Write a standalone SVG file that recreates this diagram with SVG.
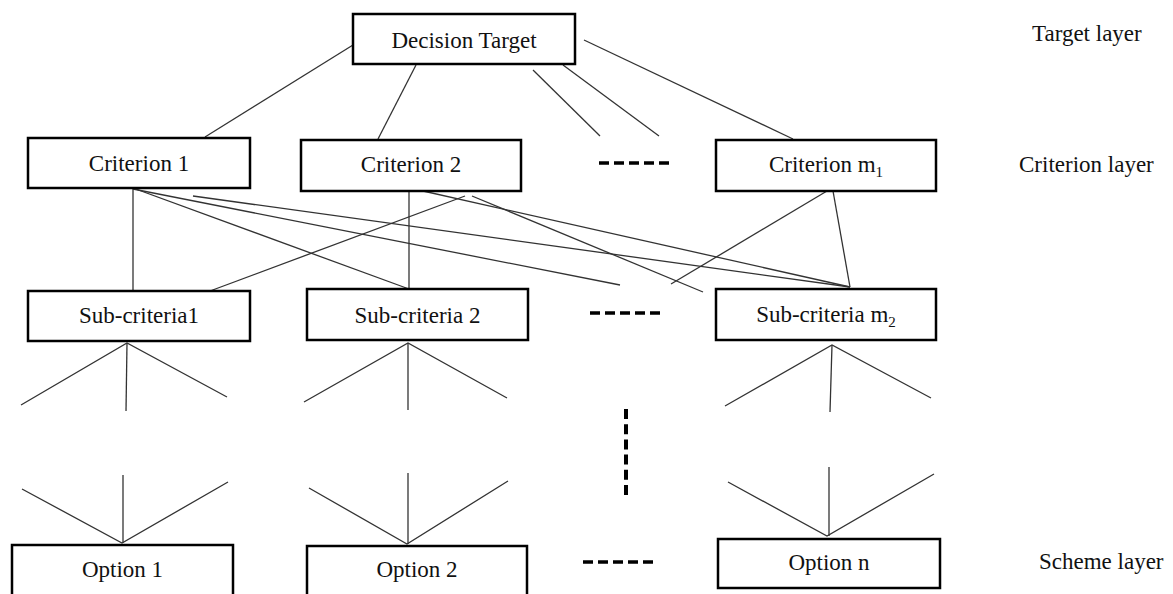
<svg xmlns="http://www.w3.org/2000/svg" width="1173" height="594" viewBox="0 0 1173 594">
  <style>
    .box { fill: #ffffff; stroke: #000000; stroke-width: 2.5; }
    .lbl { font-family: "Liberation Serif", "Times New Roman", serif; font-size: 23px; fill: #111111; text-anchor: middle; }
    .layer { font-family: "Liberation Serif", "Times New Roman", serif; font-size: 23px; fill: #111111; }
    .sub { font-size: 15px; }
    .link { stroke: #333333; stroke-width: 1.3; fill: none; }
    .dash { stroke: #000000; stroke-width: 3.5; stroke-dasharray: 10 5; fill: none; }
  </style>
  <rect width="1173" height="594" fill="#ffffff"/>

  <!-- connectors -->
  <g id="connectors">
    <!-- target to criteria -->
    <line class="link" x1="353" y1="45" x2="205" y2="137"/>
    <line class="link" x1="416" y1="65" x2="378" y2="139"/>
    <line class="link" x1="533" y1="70" x2="600" y2="136"/>
    <line class="link" x1="563" y1="65" x2="659" y2="136"/>
    <line class="link" x1="584" y1="40" x2="793" y2="139"/>
    <!-- criteria to sub-criteria -->
    <line class="link" x1="133" y1="188" x2="133" y2="291"/>
    <line class="link" x1="133" y1="188" x2="409" y2="289"/>
    <line class="link" x1="133" y1="189" x2="620" y2="285"/>
    <line class="link" x1="193" y1="196" x2="850" y2="287"/>
    <line class="link" x1="409" y1="191" x2="409" y2="289"/>
    <line class="link" x1="465" y1="196" x2="210" y2="291"/>
    <line class="link" x1="423" y1="191" x2="850" y2="287"/>
    <line class="link" x1="472" y1="196" x2="703" y2="292"/>
    <line class="link" x1="827" y1="191" x2="671" y2="284"/>
    <line class="link" x1="833" y1="191" x2="850" y2="287"/>
    <!-- sub-criteria fans -->
    <polyline class="link" points="21,405 127,343 227,397"/>
    <line class="link" x1="127" y1="343" x2="126" y2="411"/>
    <polyline class="link" points="304,402 408,343 507,398"/>
    <line class="link" x1="408" y1="343" x2="408" y2="410"/>
    <polyline class="link" points="725,406 832,345 931,398"/>
    <line class="link" x1="832" y1="345" x2="830" y2="412"/>
    <!-- option fans -->
    <polyline class="link" points="22,489 122,543 228,482"/>
    <line class="link" x1="123" y1="475" x2="123" y2="543"/>
    <polyline class="link" points="309,488 407,544 508,481"/>
    <line class="link" x1="408" y1="473" x2="408" y2="544"/>
    <polyline class="link" points="728,482 827,536 934,474"/>
    <line class="link" x1="829" y1="467" x2="829" y2="536"/>
    <!-- ellipsis dashes -->
    <line class="dash" x1="599" y1="163" x2="669" y2="163"/>
    <line class="dash" x1="590" y1="313" x2="660" y2="313"/>
    <line class="dash" x1="626" y1="409" x2="626" y2="495" style="stroke-dasharray: 10 5.2; stroke-width: 4;"/>
    <line class="dash" x1="583" y1="562" x2="653" y2="562"/>
  </g>

  <!-- target layer -->
  <g id="decision-target">
    <rect class="box" x="353" y="14" width="222" height="50"/>
    <text class="lbl" x="464" y="48">Decision Target</text>
  </g>

  <!-- criterion layer -->
  <g id="criterion-1">
    <rect class="box" x="28" y="138" width="222" height="50"/>
    <text class="lbl" x="139" y="171">Criterion 1</text>
  </g>
  <g id="criterion-2">
    <rect class="box" x="301" y="140" width="220" height="51"/>
    <text class="lbl" x="411" y="172">Criterion 2</text>
  </g>
  <g id="criterion-m1">
    <rect class="box" x="716" y="140" width="220" height="51"/>
    <text class="lbl" x="826" y="172">Criterion m<tspan class="sub" dy="5">1</tspan></text>
  </g>

  <!-- sub-criteria -->
  <g id="sub-criteria-1">
    <rect class="box" x="28" y="291" width="222" height="50"/>
    <text class="lbl" x="139" y="323">Sub-criteria1</text>
  </g>
  <g id="sub-criteria-2">
    <rect class="box" x="307" y="289" width="221" height="51"/>
    <text class="lbl" x="417.5" y="323">Sub-criteria 2</text>
  </g>
  <g id="sub-criteria-m2">
    <rect class="box" x="716" y="289" width="220" height="51"/>
    <text class="lbl" x="826" y="322">Sub-criteria m<tspan class="sub" dy="5">2</tspan></text>
  </g>

  <!-- scheme layer -->
  <g id="option-1">
    <rect class="box" x="12" y="545" width="221" height="70"/>
    <text class="lbl" x="122.5" y="577">Option 1</text>
  </g>
  <g id="option-2">
    <rect class="box" x="307" y="546" width="220" height="70"/>
    <text class="lbl" x="417" y="577">Option 2</text>
  </g>
  <g id="option-n">
    <rect class="box" x="718" y="539" width="222" height="49"/>
    <text class="lbl" x="829" y="570">Option n</text>
  </g>

  <!-- layer captions -->
  <g id="layer-labels">
    <text class="layer" x="1032" y="41">Target layer</text>
    <text class="layer" x="1019" y="172">Criterion layer</text>
    <text class="layer" x="1039" y="569">Scheme layer</text>
  </g>
</svg>
